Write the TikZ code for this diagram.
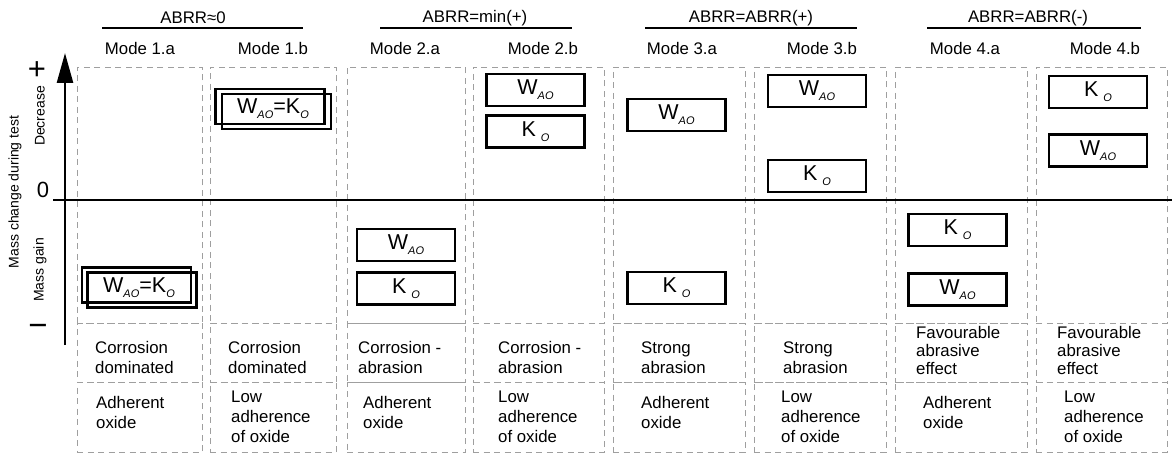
\documentclass[tikz,border=0pt]{standalone}
\usepackage{fontspec}
\setmainfont{Liberation Sans}
\usetikzlibrary{arrows.meta}
\tikzset{
  cell/.style={draw=gray!75, line width=0.9pt, dash pattern=on 6pt off 4.5pt, inner sep=0pt},
  obox/.style={draw=black, line width=2.4pt, minimum width=98pt, minimum height=32pt, inner sep=0pt,
               font=\fontsize{21.5}{21.5}\selectfont},
  dbox/.style={draw=black, line width=2.2pt, minimum width=109pt, minimum height=35pt, inner sep=0pt},
  boxtext/.style={inner sep=0pt, font=\fontsize{21.5}{21.5}\selectfont},
  rowtext/.style={anchor=base west, inner sep=0pt, font=\fontsize{16.8}{20}\selectfont},
  rowtexttight/.style={anchor=base west, inner sep=0pt, font=\fontsize{16.8}{18}\selectfont},
  header/.style={inner sep=0pt, font=\fontsize{16.8}{20}\selectfont},
  modelabel/.style={inner sep=0pt, font=\fontsize{16.8}{20}\selectfont},
  axislabel/.style={inner sep=0pt, rotate=90, font=\fontsize{14}{16}\selectfont},
  axisline/.style={line width=2.6pt, black},
  groupline/.style={line width=2.2pt, black},
}
\newcommand{\subsc}[1]{\raisebox{-5pt}{\fontsize{11}{11}\selectfont\itshape #1}}
\newcommand{\Wao}{W\subsc{AO}}
\newcommand{\Ko}{K\kern5pt\subsc{O}}
\newcommand{\WeqK}{W\subsc{AO}=K\subsc{O}}
\newcommand{\tl}[1]{\begin{tabular}[t]{@{}l@{}}#1\end{tabular}}
\begin{document}
\begin{tikzpicture}[x=1pt,y=-1pt]
\useasboundingbox (0,0) rectangle (1172,454);

% dashed cells
\foreach \i/\l/\r in {1/77/202, 2/210/336, 3/347/465, 4/473/604, 5/613/745, 6/754/886, 7/895/1027, 8/1036/1167} {
  \pgfmathsetmacro\w{\r-\l}
  \pgfmathsetmacro\c{(\l+\r)/2}
  \node[cell, minimum width=\w pt, minimum height=256pt] (top\i) at (\c,195) {};
  \node[cell, minimum width=\w pt, minimum height=59pt] (mid\i) at (\c,352.5) {};
  \node[cell, minimum width=\w pt, minimum height=70pt] (bot\i) at (\c,417) {};
}

% header groups
\node[header] (h1) at (193,18) {ABRR≈0};
\node[header] (h2) at (475,18) {ABRR=min(+)};
\node[header] (h3) at (751,18) {ABRR=ABRR(+)};
\node[header] (h4) at (1028,18) {ABRR=ABRR(-)};
\coordinate (g1a) at (102,28); \coordinate (g1b) at (303,28);
\coordinate (g2a) at (380,28); \coordinate (g2b) at (572,28);
\coordinate (g3a) at (645,28); \coordinate (g3b) at (857,28);
\coordinate (g4a) at (927,28); \coordinate (g4b) at (1141,28);
\draw[groupline] (g1a) -- (g1b);
\draw[groupline] (g2a) -- (g2b);
\draw[groupline] (g3a) -- (g3b);
\draw[groupline] (g4a) -- (g4b);

% mode labels
\node[modelabel] (m1a) at (140,48) {Mode 1.a};
\node[modelabel] (m1b) at (273,48) {Mode 1.b};
\node[modelabel] (m2a) at (405,48) {Mode 2.a};
\node[modelabel] (m2b) at (543,48) {Mode 2.b};
\node[modelabel] (m3a) at (682,48) {Mode 3.a};
\node[modelabel] (m3b) at (822,48) {Mode 3.b};
\node[modelabel] (m4a) at (965,48) {Mode 4.a};
\node[modelabel] (m4b) at (1105,48) {Mode 4.b};

% axes
\coordinate (ybot) at (65,345);
\coordinate (ytop) at (65,53);
\coordinate (xl) at (53,200);
\coordinate (xr) at (1172,200);
\draw[axisline] (xl) -- (xr);
\draw[axisline, -{Triangle[length=30pt,width=16pt]}] (ybot) -- (ytop);
\node[inner sep=0pt, font=\fontsize{31}{31}\selectfont] (plus) at (37,71) {+};
\node[inner sep=0pt, font=\fontsize{22}{22}\selectfont] (zero) at (43,190) {0};
\node[inner sep=0pt, font=\fontsize{33}{33}\selectfont] (minus) at (38,330) {−};
\node[axislabel] (dec) at (40,116) {Decrease};
\node[axislabel] (gain) at (40,270) {Mass gain};
\node[axislabel] (mct) at (15,192) {Mass change during test};

% double boxes
\node[dbox] (d1bA) at (270,106.5) {};
\node[dbox] (d1bB) at (276.5,111.5) {};
\node[boxtext] (d1bT) at (273,109) {\WeqK};
\node[dbox] (d1aA) at (136.5,285) {};
\node[dbox] (d1aB) at (142,290) {};
\node[boxtext] (d1aT) at (139,288) {\WeqK};

% single boxes
\node[obox] (w2a) at (406,245) {\Wao};
\node[obox] (k2a) at (406,288.5) {\Ko};
\node[obox] (w2b) at (535.5,90) {\Wao};
\node[obox] (k2b) at (535.5,131.5) {\Ko};
\node[obox] (w3a) at (676.5,115) {\Wao};
\node[obox] (k3a) at (676.5,288) {\Ko};
\node[obox] (w3b) at (817,91) {\Wao};
\node[obox] (k3b) at (817,176) {\Ko};
\node[obox] (k4a) at (957.5,230) {\Ko};
\node[obox] (w4a) at (957.5,289.5) {\Wao};
\node[obox] (k4b) at (1098,92) {\Ko};
\node[obox] (w4b) at (1098,150.5) {\Wao};

% row 2 texts
\node[rowtext] (r21) at (95,353) {\tl{Corrosion\\dominated}};
\node[rowtext] (r22) at (228,353) {\tl{Corrosion\\dominated}};
\node[rowtext] (r23) at (358,353) {\tl{Corrosion -\\abrasion}};
\node[rowtext] (r24) at (498,353) {\tl{Corrosion -\\abrasion}};
\node[rowtext] (r25) at (641,353) {\tl{Strong\\abrasion}};
\node[rowtext] (r26) at (783,353) {\tl{Strong\\abrasion}};
\node[rowtexttight] (r27) at (916,338) {\tl{Favourable\\abrasive\\effect}};
\node[rowtexttight] (r28) at (1057,338) {\tl{Favourable\\abrasive\\effect}};

% row 3 texts
\node[rowtext] (r31) at (96,408) {\tl{Adherent\\oxide}};
\node[rowtext] (r32) at (231,402) {\tl{Low\\adherence\\of oxide}};
\node[rowtext] (r33) at (363,408) {\tl{Adherent\\oxide}};
\node[rowtext] (r34) at (498,402) {\tl{Low\\adherence\\of oxide}};
\node[rowtext] (r35) at (641,408) {\tl{Adherent\\oxide}};
\node[rowtext] (r36) at (781,402) {\tl{Low\\adherence\\of oxide}};
\node[rowtext] (r37) at (923,408) {\tl{Adherent\\oxide}};
\node[rowtext] (r38) at (1064,402) {\tl{Low\\adherence\\of oxide}};
\end{tikzpicture}
\end{document}
